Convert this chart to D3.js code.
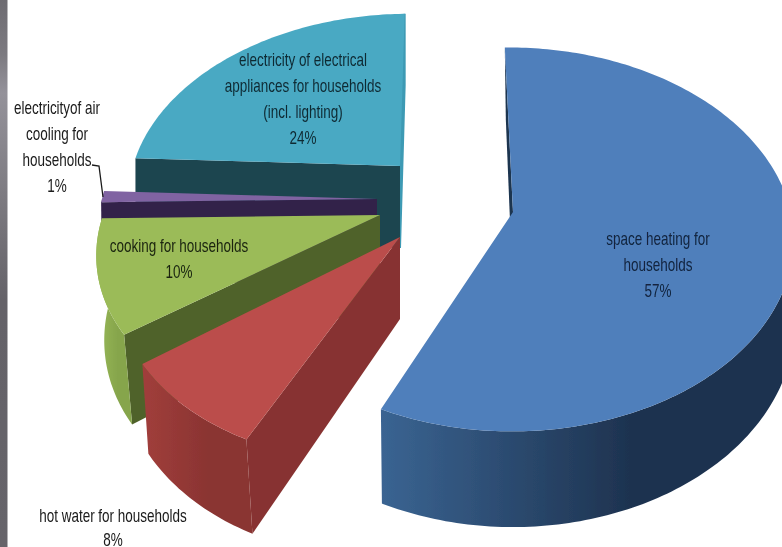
<!DOCTYPE html>
<html>
<head>
<meta charset="utf-8">
<script src="https://cdn.jsdelivr.net/npm/d3@7"></script>
<style>
html,body{margin:0;padding:0;background:#fff;overflow:hidden}
svg{display:block}
text{font-family:"Liberation Sans",sans-serif}
</style>
</head>
<body>
<div id="chart"></div>
<script>
// ---- data ----
const categories = [
  "space heating for households",
  "hot water for households",
  "cooking for households",
  "electricityof air cooling for households",
  "electricity of electrical appliances for households (incl. lighting)"
];
const values = [57, 8, 10, 1, 24];
const percentLabels = ["57%", "8%", "10%", "1%", "24%"];
const labelLines = [
  ["space heating for", "households"],
  ["hot water for households"],
  ["cooking for households"],
  ["electricityof air", "cooling for", "households"],
  ["electricity of electrical", "appliances for households", "(incl. lighting)"]
];

// ---- colours ----
const topColors  = ["#4f7fbb", "#bb4e4b", "#9bbb59", "#8064a2", "#4aa9c3"];
const cutColors  = ["#1d3450", "#873330", "#506229", "#31214a", "#1e4450"];
const endColors  = [null, null, null, null, "#3e9ab4"];
const wallColors = [
  ["#3a6492", "#1e3350"],
  ["#a13e3b", "#8a3432"],
  ["#99b957", "#86a54c"],
  ["#31214a", "#31214a"],
  ["#1e4450", "#1e4450"]
];
const labelColors = ["#12233d", "#1a1a1a", "#1a2410", "#1a1a1a", "#0f2a33"];

// ---- layout of the exploded 3-D pie ----
const W = 782, H = 547;
const perspective = 0.143, depth = 82;
const geometry = [
  {ax: 513, ay: 212, rx: 278, ry: 188, shearF: -1, shearB: 4.5, foot: 1},
  {ax: 400, ay: 237, rx: 279, ry: 193, shearF: -21, shearB: 0, foot: 6},
  {ax: 380, ay: 215, rx: 277, ry: 182, shearF: -21, shearB: 0, foot: 8},
  {ax: 377, ay: 199, rx: 275, ry: 180, shearF: 0, shearB: 0, foot: 1},
  {ax: 400, ay: 166, rx: 267, ry: 174, shearF: 0, shearB: -10, foot: 0}
];
const labelPlace = [
  {x: 658, y: 239, step: 26},
  {x: 113, y: 516, step: 24},
  {x: 179, y: 246, step: 26},
  {x: 57, y: 108, step: 26},
  {x: 303, y: 60, step: 26}
];
const textSize = 18, textNarrow = 0.75;

const rotation = -1 * Math.PI / 180;
const arcs = d3.pie().sort(null).value(d => d)
  .startAngle(rotation).endAngle(rotation + 2 * Math.PI)(values);

function project(i, angle, r, z) {
  const g = geometry[i];
  const u = r * Math.sin(angle), v = -r * Math.cos(angle);
  const s = 1 / (1 - perspective * v);
  const shear = v > 0 ? g.shearF : g.shearB;
  const x = g.ax + s * (g.rx * u + shear * v) + z * g.foot * r;
  const y = g.ay + s * g.ry * v + z * depth * s;
  return [x, y];
}
const line = d3.line().curve(d3.curveLinear);
const step = Math.PI / 180;
const rim = (a0, a1) => d3.range(a0, a1, step).concat([a1]);

const svg = d3.select("#chart").append("svg").attr("width", W).attr("height", H);
const defs = svg.append("defs");
defs.append("filter").attr("id", "soft").append("feGaussianBlur").attr("stdDeviation", 0.35);

// grey side strip
const side = defs.append("linearGradient").attr("id", "side").attr("x1", 0).attr("x2", 0).attr("y1", 0).attr("y2", 1);
[[0, "#6e6c72"], [0.1, "#7c7a80"], [0.17, "#94929a"], [0.35, "#7e7c82"], [0.55, "#646268"], [1, "#66646a"]]
  .forEach(d => side.append("stop").attr("offset", d[0]).attr("stop-color", d[1]));
svg.append("rect").attr("width", 7.5).attr("height", H).attr("fill", "url(#side)");

wallColors.forEach((c, i) => {
  const g = defs.append("linearGradient").attr("id", "wall" + i);
  g.append("stop").attr("offset", 0).attr("stop-color", c[0]);
  g.append("stop").attr("offset", 0.6).attr("stop-color", c[1]);
});

const pie = svg.append("g").attr("filter", "url(#soft)");
// painter's order: back slices first
[4, 3, 2, 1, 0].forEach(i => {
  const a = arcs[i], g = pie.append("g");
  const quad = ang => [project(i, ang, 0, 0), project(i, ang, 1, 0), project(i, ang, 1, 1), project(i, ang, 0, 1)];
  // far cut face
  if (endColors[i]) g.append("path").attr("d", line(quad(a.endAngle)) + "Z")
    .attr("fill", endColors[i]).attr("stroke", endColors[i]).attr("stroke-width", 2);
  // near cut face
  g.append("path").attr("d", line(quad(a.startAngle)) + "Z").attr("fill", cutColors[i]);
  // outer wall on the front half
  const a0 = Math.max(a.startAngle, Math.PI / 2), a1 = Math.min(a.endAngle, 3 * Math.PI / 2);
  if (a1 > a0) {
    const ang = rim(a0, a1);
    const wall = ang.map(t => project(i, t, 1, 0)).concat(ang.slice().reverse().map(t => project(i, t, 1, 1)));
    g.append("path").attr("d", line(wall) + "Z").attr("fill", `url(#wall${i})`);
  }
  // top face
  const face = [project(i, 0, 0, 0)].concat(rim(a.startAngle, a.endAngle).map(t => project(i, t, 1, 0)));
  g.append("path").attr("d", line(face) + "Z").attr("fill", topColors[i]);
});

// leader line of the 1% slice
svg.append("path").attr("d", line([[92, 165], [99, 166], [103, 197]]))
  .attr("fill", "none").attr("stroke", "#1a1a1a").attr("stroke-width", 1.3);

// labels (condensed by a horizontal scale, like the reference's narrow face)
labelLines.forEach((lines, i) => {
  const p = labelPlace[i];
  const t = svg.append("g").attr("filter", "url(#soft)");
  lines.concat([percentLabels[i]]).forEach((s, k) => {
    t.append("text").attr("text-anchor", "middle").attr("fill", labelColors[i])
      .attr("font-size", textSize)
      .attr("transform", `translate(${p.x},${p.y + k * p.step + 6}) scale(${textNarrow},1)`)
      .text(s);
  });
});
</script>
</body>
</html>
